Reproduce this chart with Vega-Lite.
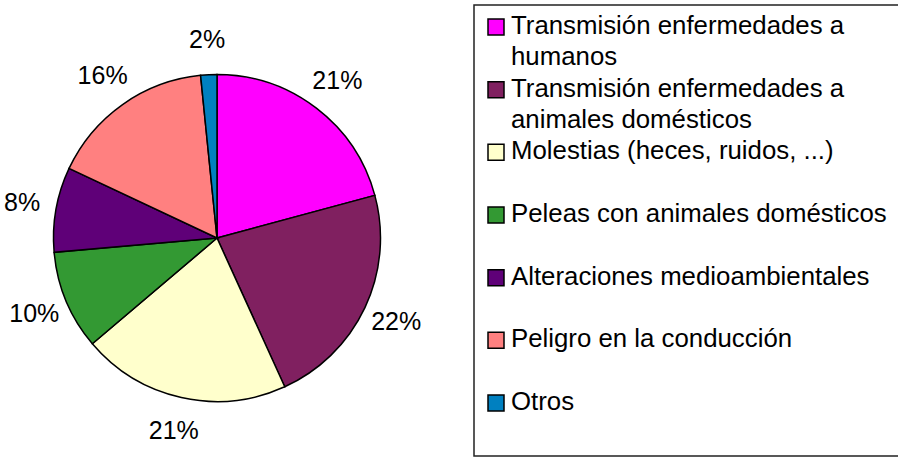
{
  "$schema": "https://vega.github.io/schema/vega-lite/v6.json",
  "padding": {"left": 0, "top": 4, "right": 0, "bottom": 0},
  "background": "white",
  "config": {"font": "Liberation Sans"},
  "data": {
    "values": [
      {"order": 1, "cat": "Transmisión enfermedades a humanos", "legend": "Transmisión enfermedades a\nhumanos", "value": 0.208},
      {"order": 2, "cat": "Transmisión enfermedades a animales domésticos", "legend": "Transmisión enfermedades a\nanimales domésticos", "value": 0.224},
      {"order": 3, "cat": "Molestias (heces, ruidos, ...)", "legend": "Molestias (heces, ruidos, ...)", "value": 0.206},
      {"order": 4, "cat": "Peleas con animales domésticos", "legend": "Peleas con animales domésticos", "value": 0.098},
      {"order": 5, "cat": "Alteraciones medioambientales", "legend": "Alteraciones medioambientales", "value": 0.084},
      {"order": 6, "cat": "Peligro en la conducción", "legend": "Peligro en la conducción", "value": 0.164},
      {"order": 7, "cat": "Otros", "legend": "Otros", "value": 0.016}
    ]
  },
  "spacing": 39,
  "hconcat": [
    {
      "width": 434,
      "height": 451,
      "view": {"stroke": null},
      "encoding": {
        "theta": {"field": "value", "type": "quantitative", "stack": true},
        "order": {"field": "order", "type": "quantitative"}
      },
      "layer": [
        {
          "mark": {"type": "arc", "outerRadius": 163.5, "yOffset": 7.5, "stroke": "black", "strokeWidth": 1.5},
          "encoding": {
            "color": {
              "field": "cat", "type": "nominal", "legend": null,
              "scale": {
                "domain": ["Transmisión enfermedades a humanos", "Transmisión enfermedades a animales domésticos", "Molestias (heces, ruidos, ...)", "Peleas con animales domésticos", "Alteraciones medioambientales", "Peligro en la conducción", "Otros"],
                "range": ["#FF00FF", "#802060", "#FFFFCC", "#339933", "#5F0078", "#FF8080", "#0080C0"]
              }
            }
          }
        },
        {
          "mark": {"type": "text", "radius": 198, "yOffset": 7.5, "fontSize": 25, "align": "center", "baseline": "middle", "color": "black"},
          "encoding": {
            "text": {"field": "value", "type": "quantitative", "format": ".0%"}
          }
        }
      ]
    },
    {
      "width": 425,
      "height": 451,
      "view": {"stroke": "#222222", "strokeWidth": 1.5},
      "encoding": {
        "y": {"field": "order", "type": "ordinal", "axis": null, "scale": {"type": "point", "range": [22, 398], "padding": 0}}
      },
      "layer": [
        {
          "mark": {"type": "point", "shape": "square", "filled": true, "size": 256, "opacity": 1, "stroke": "black", "strokeWidth": 1.5},
          "encoding": {
            "x": {"value": 22},
            "color": {
              "field": "cat", "type": "nominal", "legend": null,
              "scale": {
                "domain": ["Transmisión enfermedades a humanos", "Transmisión enfermedades a animales domésticos", "Molestias (heces, ruidos, ...)", "Peleas con animales domésticos", "Alteraciones medioambientales", "Peligro en la conducción", "Otros"],
                "range": ["#FF00FF", "#802060", "#FFFFCC", "#339933", "#5F0078", "#FF8080", "#0080C0"]
              }
            }
          }
        },
        {
          "mark": {"type": "text", "align": "left", "baseline": "alphabetic", "dy": 7, "fontSize": 25.8, "lineBreak": "\n", "lineHeight": 31, "color": "black"},
          "encoding": {
            "x": {"value": 37},
            "text": {"field": "legend", "type": "nominal"}
          }
        }
      ]
    }
  ]
}
